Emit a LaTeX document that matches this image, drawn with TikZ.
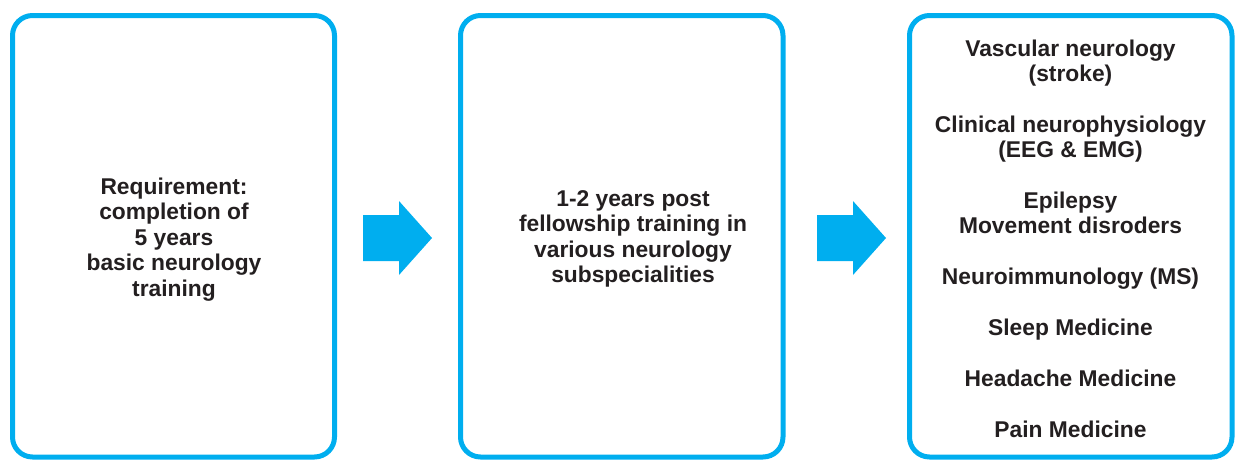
\documentclass[tikz,border=0pt]{standalone}
\usepackage{fontspec}
\setmainfont{Liberation Sans}
\definecolor{cyanb}{HTML}{00AEEF}
\definecolor{txt}{HTML}{231F20}
\begin{document}
\begin{tikzpicture}[x=1pt,y=-1pt,
  box/.style={draw=cyanb, line width=5pt, rounded corners=20pt, rectangle, inner sep=0pt},
  lbl/.style={align=center, text=txt, font=\bfseries\fontsize{22.8}{25.4}\selectfont, inner sep=0pt},
  blockarrow/.style={fill=cyanb, draw=none}]
\useasboundingbox (0,0) rectangle (1235,459);
\node[box, minimum width=322pt, minimum height=441.5pt] (b1) at (173.5,236.25) {};
\node[box, minimum width=322.5pt, minimum height=441.5pt] (b2) at (621.75,236.25) {};
\node[box, minimum width=322.5pt, minimum height=441.5pt] (b3) at (1070.75,236.25) {};
\node[lbl] (t1) at (174,239.5) {Requirement:\\completion of\\5 years\\basic neurology\\training};
\node[lbl] (t2) at (633,239) {1-2 years post\\fellowship training in\\various neurology\\subspecialities};
\node[lbl] (t3) at (1070.5,238.5) {Vascular neurology\\(stroke)\\[25.4pt]Clinical neurophysiology\\(EEG \& EMG)\\[25.4pt]Epilepsy\\Movement disroders\\[25.4pt]Neuroimmunology (MS)\\[25.4pt]Sleep Medicine\\[25.4pt]Headache Medicine\\[25.4pt]Pain Medicine};
\fill[blockarrow] (363,215) -- (399,215) -- (399,201) -- (432,238) -- (399,275) -- (399,261) -- (363,261) -- cycle;
\fill[blockarrow] (817,215) -- (853,215) -- (853,201) -- (886,238) -- (853,275) -- (853,261) -- (817,261) -- cycle;
\end{tikzpicture}
\end{document}
